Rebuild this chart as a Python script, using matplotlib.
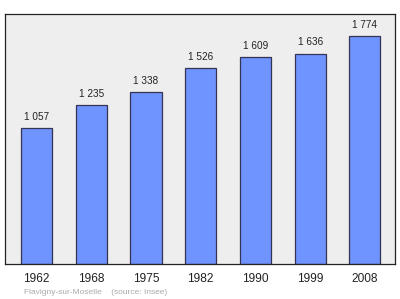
import matplotlib
matplotlib.use("Agg")
import matplotlib.pyplot as plt

plt.rcParams["font.family"] = ["Liberation Sans", "DejaVu Sans"]

years = ["1962", "1968", "1975", "1982", "1990", "1999", "2008"]
population = [1057, 1235, 1338, 1526, 1609, 1636, 1774]
value_labels = ["1 057", "1 235", "1 338", "1 526", "1 609", "1 636", "1 774"]
source_text = "Flavigny-sur-Moselle    (source: Insee)"

fig = plt.figure(figsize=(4.0, 2.99), dpi=100)
ax = fig.add_axes([4.5 / 400, 35 / 299, 390.5 / 400, 250 / 299])
ax.set_facecolor("#eeeeee")

x = list(range(len(years)))
ax.bar(x, population, width=0.57, color="#7094ff", edgecolor="#333355", linewidth=0.9, zorder=2)
for xi, v, lab in zip(x, population, value_labels):
    ax.annotate(lab, (xi, v), xytext=(0, 4.5), textcoords="offset points",
                ha="center", va="bottom", fontsize=7.2, color="#222222")

ax.set_xlim(-0.585, 6.55)
ax.set_ylim(0, 1944)
ax.set_yticks([])
ax.set_xticks(x)
ax.set_xticklabels(years, fontsize=8.6, color="#222222")
ax.tick_params(axis="x", length=0, pad=6.5)
for s in ax.spines.values():
    s.set_color("#222222")
    s.set_linewidth(0.9)

fig.text(24 / 400, 1 - 292 / 299, source_text, fontsize=6.0, color="#aaaaaa",
         ha="left", va="center")

fig.savefig("out.png", dpi=100, facecolor="white")
